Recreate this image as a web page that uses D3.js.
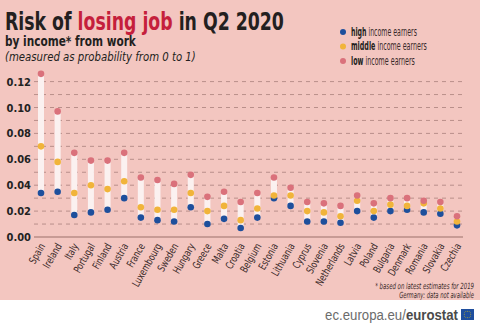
<!DOCTYPE html>
<html>
<head>
<meta charset="utf-8">
<script src="https://cdn.jsdelivr.net/npm/d3@7"></script>
<style>
  html, body { margin: 0; padding: 0; background: #ffffff; }
  svg { display: block; }
  .cond { font-family: "Liberation Sans Narrow", "DejaVu Sans Condensed", "Roboto Condensed", sans-serif; font-stretch: condensed; }
</style>
</head>
<body>
<svg id="chart" width="480" height="331"></svg>
<script>
// Risk of losing job by income group, Q2 2020
const countries = ["Spain","Ireland","Italy","Portugal","Finland","Austria","France","Luxembourg","Sweden","Hungary","Greece","Malta","Croatia","Belgium","Estonia","Lithuania","Cyprus","Slovenia","Netherlands","Latvia","Poland","Bulgaria","Denmark","Romania","Slovakia","Czechia"];
const highIncome   = [0.034,0.035,0.017,0.019,0.021,0.030,0.015,0.013,0.012,0.023,0.010,0.014,0.007,0.015,0.030,0.024,0.012,0.012,0.011,0.020,0.015,0.020,0.021,0.019,0.018,0.009];
const middleIncome = [0.070,0.058,0.034,0.040,0.037,0.043,0.023,0.021,0.021,0.034,0.020,0.024,0.013,0.022,0.032,0.032,0.020,0.019,0.016,0.028,0.020,0.025,0.024,0.026,0.022,0.012];
const lowIncome    = [0.126,0.097,0.065,0.059,0.059,0.065,0.046,0.044,0.041,0.048,0.031,0.035,0.027,0.034,0.046,0.038,0.027,0.026,0.024,0.032,0.026,0.030,0.030,0.028,0.027,0.016];
const yTicks = [0, 0.02, 0.04, 0.06, 0.08, 0.10, 0.12];
const gridValues = [0.01,0.02,0.03,0.04,0.05,0.06,0.07,0.08,0.09,0.10,0.11,0.12];
const seriesNames = ["high", "middle", "low"];
const seriesColors = { high: "#1e4f9c", middle: "#f1b43a", low: "#da717b" };

const W = 480, H = 331;
const svg = d3.select("#chart");

// squeeze a text horizontally so it spans the given width, keeping its anchor point
function fitWidth(sel, width) {
  const node = sel.node();
  const natural = node.getComputedTextLength();
  const ax = +sel.attr("x");
  const k = width / natural;
  sel.attr("transform", `translate(${ax},0) scale(${k},1) translate(${-ax},0)`);
}

// background panel
svg.append("rect").attr("x", 0).attr("y", 0).attr("width", W).attr("height", 300).attr("fill", "#f3c6c0");

const x = d3.scalePoint().domain(countries).range([41, 457]);
const y = d3.scaleLinear().domain([0, 0.12]).range([237, 81.6]);

// dashed gridlines
svg.append("g").selectAll("line").data(gridValues).join("line")
  .attr("x1", 34).attr("x2", 463)
  .attr("y1", d => y(d)).attr("y2", d => y(d))
  .attr("stroke", "#b98f8a").attr("stroke-width", 1)
  .attr("stroke-dasharray", "4,4");

// y axis labels
const yAxis = d3.axisLeft(y).tickValues(yTicks).tickFormat(d3.format(".2f")).tickSize(0).tickPadding(3);
const yg = svg.append("g").attr("transform", "translate(34,0)").call(yAxis);
yg.select(".domain").remove();
yg.selectAll("text").attr("class", "cond").attr("font-size", 11).attr("font-weight", "bold").attr("fill", "#222");

// baseline
svg.append("line").attr("x1", 34).attr("x2", 463).attr("y1", y(0)).attr("y2", y(0))
  .attr("stroke", "#9b706b").attr("stroke-width", 1.2);

const rows = countries.map((c, i) => ({ c, high: highIncome[i], middle: middleIncome[i], low: lowIncome[i] }));

// range bars from high to low income
svg.append("g").selectAll("rect").data(rows).join("rect")
  .attr("x", d => x(d.c) - 3).attr("width", 6)
  .attr("y", d => y(d.low)).attr("height", d => y(d.high) - y(d.low))
  .attr("fill", "#fbf1f0");

// dots
seriesNames.forEach(s => {
  svg.append("g").selectAll("circle").data(rows).join("circle")
    .attr("cx", d => x(d.c)).attr("cy", d => y(d[s])).attr("r", 3.3)
    .attr("fill", seriesColors[s]);
});

// country labels
const xAxis = d3.axisBottom(x).tickSize(0).tickPadding(0);
const xg = svg.append("g").attr("transform", "translate(0,243)").call(xAxis);
xg.select(".domain").remove();
xg.selectAll("text")
  .attr("class", "cond").attr("font-size", 10.5).attr("fill", "#3a2a2a")
  .attr("text-anchor", "end").attr("dy", 0)
  .attr("transform", "translate(4,3) rotate(-60) scale(0.82,1)");

// title
const title = svg.append("text").attr("class", "cond").attr("x", 5).attr("y", 30)
  .attr("font-size", 24).attr("font-weight", "bold").attr("fill", "#231f20");
title.append("tspan").text("Risk of ");
title.append("tspan").attr("fill", "#c51f3c").text("losing job");
title.append("tspan").text(" in Q2 2020");
fitWidth(title, 279);

const sub = svg.append("text").attr("class", "cond").attr("x", 5).attr("y", 46)
  .attr("font-size", 14.5).attr("font-weight", "bold").attr("fill", "#231f20")
  .text("by income* from work");
fitWidth(sub, 131);
const sub2 = svg.append("text").attr("class", "cond").attr("x", 5).attr("y", 61)
  .attr("font-size", 13).attr("font-style", "italic").attr("fill", "#231f20")
  .text("(measured as probability from 0 to 1)");
fitWidth(sub2, 191);

// legend
const legendRows = [
  { key: "high", len: 66 },
  { key: "middle", len: 76 },
  { key: "low", len: 64 }
];
legendRows.forEach((r, i) => {
  const ly = 32 + i * 14.5;
  svg.append("circle").attr("cx", 343).attr("cy", ly).attr("r", 3).attr("fill", seriesColors[r.key]);
  const t = svg.append("text").attr("class", "cond").attr("x", 351).attr("y", ly + 4)
    .attr("font-size", 11.5).attr("fill", "#3a2a2a");
  t.append("tspan").attr("font-weight", "bold").attr("fill", "#231f20").text(r.key);
  t.append("tspan").text(" income earners");
  fitWidth(t, r.len);
});

// footnotes
const fn1 = svg.append("text").attr("class", "cond").attr("x", 474).attr("y", 289)
  .attr("text-anchor", "end").attr("font-size", 8.5).attr("font-style", "italic").attr("fill", "#3a2a2a")
  .text("* based on latest estimates for 2019");
fitWidth(fn1, 99);
const fn2 = svg.append("text").attr("class", "cond").attr("x", 474).attr("y", 298)
  .attr("text-anchor", "end").attr("font-size", 8.5).attr("font-style", "italic").attr("fill", "#3a2a2a")
  .text("Germany: data not available");
fitWidth(fn2, 75);

// source line
const src = svg.append("text").attr("x", 458).attr("y", 320).attr("text-anchor", "end")
  .attr("font-family", "Liberation Sans, Arial, sans-serif").attr("font-size", 15).attr("fill", "#6b6b6b");
src.append("tspan").text("ec.europa.eu/");
src.append("tspan").attr("font-weight", "bold").attr("fill", "#4a4a4a").text("eurostat");
fitWidth(src, 133);

// EU flag
const flag = svg.append("g").attr("transform", "translate(461,309)");
flag.append("rect").attr("width", 13).attr("height", 11).attr("fill", "#1f4f9e");
d3.range(12).forEach(k => {
  const a = k / 12 * 2 * Math.PI;
  flag.append("circle").attr("cx", 6.5 + 3.3 * Math.cos(a)).attr("cy", 5.5 + 3.3 * Math.sin(a))
    .attr("r", 0.45).attr("fill", "#f5d000");
});
</script>
</body>
</html>
